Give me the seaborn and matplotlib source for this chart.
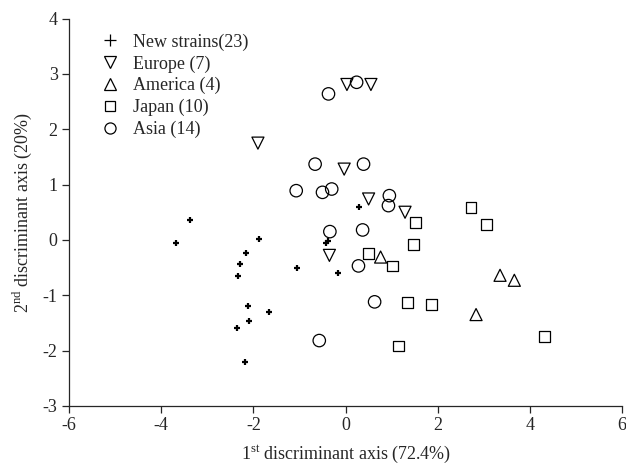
import numpy as np
import pandas as pd
import matplotlib
matplotlib.use("Agg")
import matplotlib.pyplot as plt
import seaborn as sns
from matplotlib.lines import Line2D

# DADOS
new_x = [-3.68, -3.37, -1.88, -2.16, -2.28, -2.33, -2.11, -1.65, -2.10, -2.35, -2.17, -1.06, -0.43, -0.39, -0.17, 0.30]
new_y = [-0.05, 0.36, 0.02, -0.24, -0.43, -0.66, -1.20, -1.30, -1.47, -1.60, -2.20, -0.51, -0.05, -0.02, -0.60, 0.59]

europe_x = [-1.90, 0.03, 0.55, -0.03, 0.50, 1.29, -0.35]
europe_y = [1.75, 2.81, 2.81, 1.28, 0.74, 0.50, -0.28]

america_x = [0.76, 3.35, 3.66, 2.83]
america_y = [-0.31, -0.64, -0.73, -1.35]

japan_x = [1.51, 2.72, 3.05, 1.47, 0.50, 1.02, 1.35, 1.87, 4.31, 1.14]
japan_y = [0.31, 0.59, 0.28, -0.08, -0.24, -0.47, -1.13, -1.17, -1.74, -1.92]

asia_x = [-0.37, 0.24, -0.66, 0.39, -1.07, -0.50, -0.30, 0.95, 0.93, -0.34, 0.37, 0.28, 0.63, -0.57]
asia_y = [2.64, 2.85, 1.37, 1.37, 0.89, 0.86, 0.92, 0.80, 0.62, 0.15, 0.18, -0.47, -1.12, -1.82]

groups = ["New strains(23)", "Europe (7)", "America (4)", "Japan (10)", "Asia (14)"]
markers = ["+", "v", "^", "s", "o"]

df = pd.concat([
    pd.DataFrame({"x": new_x, "y": new_y, "group": groups[0]}),
    pd.DataFrame({"x": europe_x, "y": europe_y, "group": groups[1]}),
    pd.DataFrame({"x": america_x, "y": america_y, "group": groups[2]}),
    pd.DataFrame({"x": japan_x, "y": japan_y, "group": groups[3]}),
    pd.DataFrame({"x": asia_x, "y": asia_y, "group": groups[4]}),
], ignore_index=True)

sns.set_style("ticks")
plt.rcParams.update({
    "font.family": ["Liberation Serif", "DejaVu Serif"],
    "font.size": 13,
    "mathtext.fontset": "custom",
    "mathtext.rm": "Liberation Serif",
    "axes.unicode_minus": False,
    "xtick.direction": "out",
    "ytick.direction": "out",
})

fig = plt.figure(figsize=(6.26, 4.67), dpi=100)
ax = fig.add_axes([0.110, 0.131, 0.884, 0.829])

sizes = {"+": 22, "v": 75, "^": 75, "s": 60, "o": 80}
for g, m in zip(groups, markers):
    sub = df[df["group"] == g]
    if m == "+":
        sns.scatterplot(data=sub, x="x", y="y", marker=m, color="black",
                        s=sizes[m], linewidth=1.6, ax=ax, legend=False)
    else:
        sns.scatterplot(data=sub, x="x", y="y", marker=m, facecolor="none",
                        edgecolor="black", s=sizes[m], linewidth=0.9, ax=ax, legend=False)

ax.set_xlim(-6, 6)
ax.set_ylim(-3, 4)
ax.set_xticks(np.arange(-6, 7, 2))
ax.set_yticks(np.arange(-3, 5, 1))
ax.tick_params(length=5, width=0.9, labelsize=13, pad=3)
sns.despine(ax=ax)
for sp in ["left", "bottom"]:
    ax.spines[sp].set_linewidth(0.9)

ax.set_xlabel(r"1$^{\mathrm{st}}$ discriminant axis (72.4%)", fontsize=13, labelpad=7)
ax.set_ylabel(r"2$^{\mathrm{nd}}$ discriminant axis (20%)", fontsize=13, labelpad=6)

handles = []
for g, m in zip(groups, markers):
    handles.append(Line2D([], [], linestyle="none", marker=m, color="black",
                          markerfacecolor="none", markersize=8 if m != "s" else 7,
                          markeredgewidth=0.9, label=g))
ax.legend(handles=handles, loc="upper left", bbox_to_anchor=(0.035, 0.99), frameon=False,
          fontsize=13, handlelength=1.2, handletextpad=0.7, labelspacing=0.25,
          borderaxespad=0.2)

plt.savefig("out.png", dpi=100)
